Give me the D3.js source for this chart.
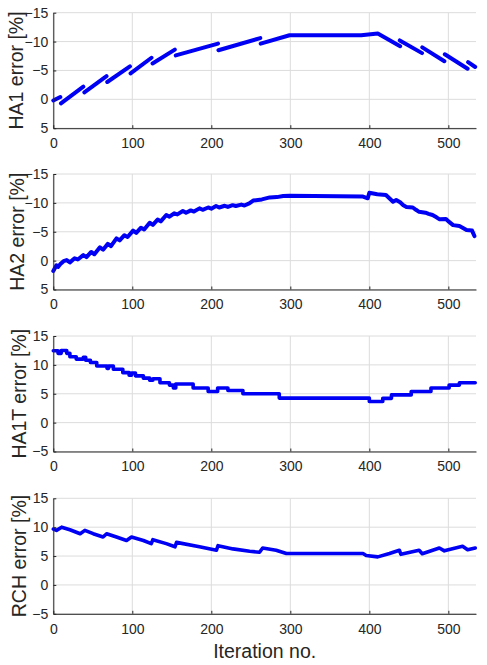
<!DOCTYPE html>
<meta charset="utf-8">
<style>
  body { margin: 0; background: #fff; }
  svg { font-family: "Liberation Sans", Arial, sans-serif; }
  .grid line { stroke: #dcdcdc; stroke-width: 1; }
  .axis .domain { stroke: #262626; }
  .axis .tick line { stroke: #262626; }
  .axis text { fill: #262626; font-size: 14px; }
  .ylabel, .xlabel { fill: #262626; font-size: 19.5px; }
  .series { fill: none; stroke: #0000f5; stroke-linecap: round; stroke-linejoin: round; }
</style>
<svg width="487" height="665"></svg>
<script src="https://d3js.org/d3.v7.min.js"></script>
<script>
  // tick labels
  var iterTicks = [0, 100, 200, 300, 400, 500];
  var haTicks = [-15, -10, -5, 0, 5];
  var errTicks = [-5, 0, 5, 10, 15];

  // HA1: sawtooth pieces, null = break between pieces
  var ha1Iter = [0, 8.9, null, 9.7, 38, null, 39.3, 67.4, null, 68.3, 97, null, 97.8, 124.3, null,
    125.6, 153.8, null, 155, 208.5, null, 209, 262, null, 262.5, 299, 389.7, 410.7, 439, null,
    438.5, 466.7, null, 467, 495, null, 495.5, 524.4, null, 525, 534];
  var ha1Err = [0.2, -0.4, null, 0.7, -2.2, null, -1.2, -4.0, null, -3.0, -5.7, null, -4.5, -7.2, null,
    -6.2, -8.6, null, -7.6, -9.65, null, -8.5, -10.6, null, -9.65, -11.1, -11.1, -11.4, -9.2, null,
    -10.2, -8.0, null, -9.0, -6.6, null, -7.8, -5.3, null, -6.45, -5.6];

  // HA2 (small steps)
  var ha2Iter = [0, 4, 6, 9, 13, 17, 21, 27, 31, 38, 42, 48, 52, 59, 63, 69, 73, 80, 84, 90, 94, 101,
    105, 111, 115, 122, 126, 132, 136, 143, 147, 153, 157, 164, 168, 174, 178, 185, 189, 196, 200, 206,
    210, 217, 221, 227, 231, 238, 242, 248, 253, 264, 274, 283, 291, 299, 392, 398, 400, 410, 421, 430,
    434, 439, 443, 447, 455, 459, 463, 471, 475, 480, 485, 489, 497, 501, 506, 514, 518, 523, 530, 533];
  var ha2Err = [1.8, 0.8, 1.1, 0.6, 0.1, -0.1, 0.3, -0.4, -0.2, -0.95, -0.6, -1.5, -1.1, -2.3, -1.9,
    -2.9, -2.5, -3.85, -3.5, -4.4, -4.1, -5.2, -4.8, -5.7, -5.4, -6.55, -6.2, -7.1, -6.8, -7.9, -7.6,
    -8.2, -8.0, -8.6, -8.3, -8.7, -8.5, -9.05, -8.8, -9.2, -9.0, -9.45, -9.2, -9.5, -9.3, -9.6, -9.45,
    -9.7, -9.55, -9.9, -10.4, -10.6, -10.95, -11.0, -11.2, -11.25, -11.1, -10.8, -11.75, -11.5, -11.35,
    -10.2, -10.5, -10.1, -9.6, -9.3, -9.2, -8.8, -8.45, -8.3, -8.1, -7.9, -7.5, -7.15, -7.2, -6.7, -6.15,
    -6.0, -5.7, -5.3, -5.2, -4.25];

  // HA1T: step levels (value holds until next iteration)
  var ha1tIter = [0, 6, 10, 17, 21, 29, 38, 41, 47, 55, 68, 70, 76, 88, 96, 99, 104, 114, 122, 126,
    135, 147, 152, 155, 177, 196, 208, 221, 240, 286, 400, 417, 428, 453, 478, 501, 514, 534];
  var ha1tErr = [12.45, 12.0, 12.5, 12.0, 11.4, 11.0, 11.3, 10.8, 10.4, 9.8, 9.4, 9.8, 9.25, 8.65, 8.2,
    8.6, 8.1, 7.7, 7.35, 7.6, 6.9, 6.5, 6.0, 6.7, 6.0, 5.4, 6.0, 5.55, 5.0, 4.25, 3.65, 4.2, 4.8, 5.4,
    6.0, 6.5, 6.9, 6.9];

  // RCH
  var rchIter = [0, 4, 10.6, 21, 34, 40, 50.5, 63, 67.5, 80, 92.7, 99, 114, 124, 126, 143, 154, 156,
    185, 206.5, 208.5, 227.5, 248.5, 261, 265, 282, 295, 392, 396, 410.7, 425.5, 438, 440, 463, 467,
    488.6, 495, 518, 524.4, 534];
  var rchErr = [9.67, 9.45, 10.0, 9.55, 8.87, 9.45, 8.87, 8.3, 8.87, 8.3, 7.7, 8.3, 7.7, 7.15, 7.83,
    7.15, 6.6, 7.37, 6.6, 6.0, 6.8, 6.24, 5.83, 5.65, 6.4, 6.0, 5.43, 5.43, 5.1, 4.86, 5.43, 6.0, 5.3,
    6.0, 5.4, 6.4, 5.9, 6.7, 6.1, 6.4];

  var svg = d3.select("svg");
  var left = 53.3, right = 476, h = 115.5;

  var x = d3.scaleLinear().domain([0, 535]).range([left, right]);

  var panels = [
    { top: 12.7, iter: ha1Iter, err: ha1Err, dom: [-15, 5], ticks: haTicks, label: "HA1 error [%]", lx: 23, w: 4, curve: d3.curveLinear },
    { top: 174, iter: ha2Iter, err: ha2Err, dom: [-15, 5], ticks: haTicks, label: "HA2 error [%]", lx: 24, w: 4, curve: d3.curveLinear },
    { top: 336, iter: ha1tIter, err: ha1tErr, dom: [15, -5], ticks: errTicks, label: "HA1T error [%]", lx: 26, w: 3.6, curve: d3.curveStepAfter },
    { top: 498.3, iter: rchIter, err: rchErr, dom: [15, -5], ticks: errTicks, label: "RCH error [%]", lx: 26, w: 3.6, curve: d3.curveLinear }
  ];

  panels.forEach(function(p) {
    var y = d3.scaleLinear().domain(p.dom).range([p.top, p.top + h]);
    var g = svg.append("g");

    var grid = g.append("g").attr("class", "grid");
    grid.selectAll(".gx").data(iterTicks).enter().append("line")
      .attr("x1", function(d) { return x(d); }).attr("x2", function(d) { return x(d); })
      .attr("y1", y.range()[0]).attr("y2", y.range()[1]);
    grid.selectAll(".gy").data(p.ticks).enter().append("line")
      .attr("x1", left).attr("x2", right)
      .attr("y1", function(d) { return y(d); }).attr("y2", function(d) { return y(d); });

    var pts = p.iter.map(function(d, i) { return [d, p.err[i]]; });
    var line = d3.line()
      .defined(function(d) { return d[0] != null; })
      .curve(p.curve)
      .x(function(d) { return x(d[0]); })
      .y(function(d) { return y(d[1]); });
    g.append("path").datum(pts).attr("class", "series")
      .attr("stroke-width", p.w).attr("d", line);

    g.append("g").attr("class", "axis")
      .attr("transform", "translate(" + left + ",0)")
      .call(d3.axisLeft(y).tickValues(p.ticks).tickFormat(d3.format("d"))
        .tickSizeInner(-3).tickSizeOuter(0).tickPadding(5));

    g.append("g").attr("class", "axis")
      .attr("transform", "translate(0," + (p.top + h) + ")")
      .call(d3.axisBottom(x).tickValues(iterTicks).tickFormat(d3.format("d"))
        .tickSizeInner(-3).tickSizeOuter(0).tickPadding(10));

    g.append("text").attr("class", "ylabel")
      .attr("text-anchor", "middle")
      .attr("transform", "translate(" + p.lx + "," + (p.top + h / 2) + ") rotate(-90)")
      .text(p.label);
  });

  svg.append("text").attr("class", "xlabel")
    .attr("text-anchor", "middle")
    .attr("x", (left + right) / 2).attr("y", 658)
    .text("Iteration no.");
</script>
